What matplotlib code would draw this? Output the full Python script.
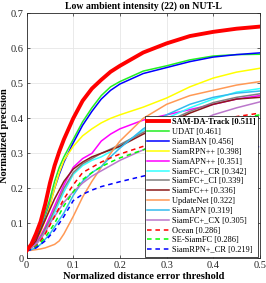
import numpy as np
import matplotlib
matplotlib.use("Agg")
import matplotlib.pyplot as plt

plt.rcParams["font.family"] = ["Liberation Serif", "DejaVu Serif"]

X = [0, 0.01, 0.02, 0.03, 0.04, 0.05, 0.06, 0.07, 0.08, 0.1, 0.12, 0.14, 0.16, 0.18,
     0.2, 0.25, 0.3, 0.35, 0.4, 0.45, 0.5]

# precision values read at X for each tracker
SAM_DA = [0.022, 0.04, 0.07, 0.105, 0.155, 0.215, 0.265, 0.305, 0.34, 0.40, 0.45, 0.485,
          0.51, 0.533, 0.55, 0.588, 0.614, 0.635, 0.647, 0.656, 0.662]
UDAT = [0.022, 0.035, 0.06, 0.09, 0.13, 0.17, 0.22, 0.26, 0.29, 0.34, 0.39, 0.43,
        0.465, 0.49, 0.505, 0.535, 0.55, 0.567, 0.578, 0.582, 0.583]
SIAMBAN = [0.022, 0.033, 0.055, 0.08, 0.115, 0.155, 0.2, 0.24, 0.275, 0.33, 0.38, 0.42,
           0.455, 0.48, 0.498, 0.528, 0.545, 0.562, 0.575, 0.582, 0.587]
SIAMRPNPP = [0.022, 0.033, 0.05, 0.075, 0.11, 0.15, 0.2, 0.245, 0.28, 0.32, 0.35, 0.37,
             0.387, 0.40, 0.41, 0.432, 0.458, 0.49, 0.515, 0.532, 0.543]
SIAMAPNPP = [0.022, 0.032, 0.045, 0.065, 0.09, 0.12, 0.15, 0.18, 0.21, 0.26, 0.285, 0.30,
             0.335, 0.355, 0.37, 0.395, 0.41, 0.425, 0.44, 0.455, 0.465]
SIAMFC_CR = [0.022, 0.03, 0.04, 0.058, 0.08, 0.105, 0.13, 0.16, 0.19, 0.24, 0.265, 0.28,
             0.29, 0.305, 0.32, 0.365, 0.40, 0.43, 0.455, 0.475, 0.485]
SIAMFC_CI = [0.022, 0.03, 0.04, 0.06, 0.085, 0.11, 0.14, 0.17, 0.2, 0.245, 0.27, 0.285,
             0.30, 0.312, 0.325, 0.36, 0.39, 0.42, 0.445, 0.46, 0.47]
SIAMFCPP = [0.022, 0.033, 0.05, 0.08, 0.11, 0.14, 0.17, 0.195, 0.22, 0.255, 0.275, 0.29,
            0.30, 0.31, 0.32, 0.355, 0.385, 0.415, 0.44, 0.455, 0.46]
UPDATENET = [0.022, 0.023, 0.025, 0.027, 0.03, 0.035, 0.04, 0.05, 0.07, 0.12, 0.175, 0.22,
             0.26, 0.30, 0.335, 0.40, 0.44, 0.465, 0.48, 0.495, 0.505]
SIAMAPN = [0.022, 0.025, 0.03, 0.04, 0.055, 0.07, 0.09, 0.11, 0.13, 0.18, 0.22, 0.245,
           0.262, 0.29, 0.315, 0.37, 0.41, 0.44, 0.46, 0.472, 0.478]
SIAMFC_CX = [0.022, 0.03, 0.04, 0.055, 0.075, 0.1, 0.12, 0.14, 0.16, 0.19, 0.215, 0.235,
             0.25, 0.265, 0.28, 0.31, 0.345, 0.38, 0.41, 0.43, 0.447]
OCEAN = [0.022, 0.027, 0.035, 0.05, 0.07, 0.095, 0.12, 0.145, 0.17, 0.21, 0.245, 0.26,
         0.275, 0.287, 0.298, 0.32, 0.345, 0.37, 0.39, 0.405, 0.415]
SE_SIAMFC = [0.022, 0.027, 0.033, 0.045, 0.06, 0.08, 0.1, 0.125, 0.15, 0.19, 0.225, 0.245,
             0.262, 0.275, 0.287, 0.31, 0.335, 0.36, 0.38, 0.398, 0.41]
SIAMRPN_CR = [0.022, 0.025, 0.03, 0.04, 0.05, 0.065, 0.08, 0.1, 0.12, 0.165, 0.183, 0.195,
              0.205, 0.212, 0.219, 0.235, 0.25, 0.27, 0.29, 0.305, 0.32]

# (label, color, linestyle, linewidth, values)
TRACKERS = [
    ("SAM-DA-Track [0.511]", "#ff0000", "-", 2.8, SAM_DA),
    ("UDAT [0.461]", "#22ee22", "-", 1.1, UDAT),
    ("SiamBAN [0.456]", "#0000ff", "-", 1.1, SIAMBAN),
    ("SiamRPN++ [0.398]", "#ffff00", "-", 1.1, SIAMRPNPP),
    ("SiamAPN++ [0.351]", "#ff00ff", "-", 1.1, SIAMAPNPP),
    ("SiamFC+_CR [0.342]", "#33ffff", "-", 1.1, SIAMFC_CR),
    ("SiamFC+_CI [0.339]", "#808080", "-", 1.1, SIAMFC_CI),
    ("SiamFC++ [0.336]", "#8b1a1a", "-", 1.1, SIAMFCPP),
    ("UpdateNet [0.322]", "#ff9955", "-", 1.1, UPDATENET),
    ("SiamAPN [0.319]", "#33bbee", "-", 1.1, SIAMAPN),
    ("SiamFC+_CX [0.305]", "#bb77cc", "-", 1.1, SIAMFC_CX),
    ("Ocean [0.286]", "#ff0000", "--", 1.1, OCEAN),
    ("SE-SiamFC [0.286]", "#00ff00", "--", 1.1, SE_SIAMFC),
    ("SiamRPN+_CR [0.219]", "#0000ff", "--", 1.1, SIAMRPN_CR),
]


def main() -> None:
    fig = plt.figure(figsize=(2.66, 2.83), dpi=100)
    ax = fig.add_axes([0.1, 0.087, 0.877, 0.866])

    for i, (label, color, ls, lw, values) in enumerate(TRACKERS):
        z = 10 if i == 0 else 5
        ax.plot(X, values, color=color, linestyle=ls, linewidth=lw, label=label,
                zorder=z, dashes=(3, 2.5) if ls == "--" else (None, None))

    ax.set_xlim(0, 0.5)
    ax.set_ylim(0, 0.7)
    ax.set_xticks(np.arange(0, 0.51, 0.1))
    ax.set_yticks(np.arange(0, 0.71, 0.1))
    ax.set_xticklabels(["0", "0.1", "0.2", "0.3", "0.4", "0.5"])
    ax.set_yticklabels(["0", "0.1", "0.2", "0.3", "0.4", "0.5", "0.6", "0.7"])
    ax.tick_params(direction="in", labelsize=7.5, length=2, width=0.5, pad=2,
                   top=True, right=True, colors="#262626")
    ax.grid(True, color="#e6e6e6", linewidth=0.6)
    ax.set_axisbelow(True)
    for spine in ax.spines.values():
        spine.set_linewidth(0.6)
        spine.set_color("#262626")

    ax.set_xlabel("Normalized distance error threshold", fontsize=7.5, fontweight="bold", labelpad=1)
    ax.set_ylabel("Normalized precision", fontsize=7.5, fontweight="bold", labelpad=1)
    ax.set_title("Low ambient intensity (22) on NUT-L", fontsize=7, fontweight="bold", pad=3)

    leg = ax.legend(loc="lower right", fontsize=6, labelspacing=0.22, handlelength=2.6,
                    handletextpad=0.4, borderpad=0.3, borderaxespad=0.2, fancybox=False,
                    framealpha=1, edgecolor="#262626")
    leg.get_frame().set_linewidth(0.6)
    leg.set_zorder(20)
    leg.get_texts()[0].set_fontweight("bold")

    fig.savefig("out.png", dpi=100)


if __name__ == "__main__":
    main()
